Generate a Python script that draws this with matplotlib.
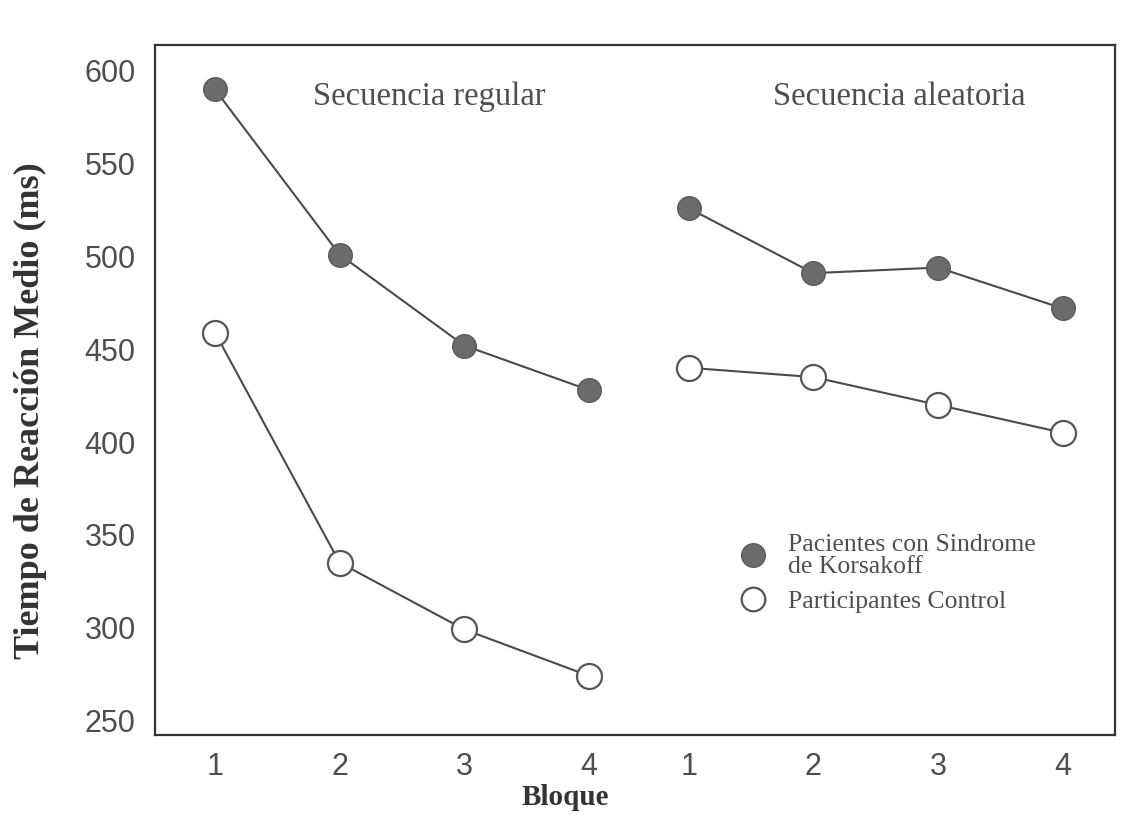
import matplotlib.pyplot as plt
from matplotlib.lines import Line2D

# data
bloques = ['1', '2', '3', '4']
x_regular = [1, 2, 3, 4]
x_aleatoria = [4.8, 5.8, 6.8, 7.8]

korsakoff_regular = [590, 501, 452, 428]
control_regular = [459, 335, 299, 274]
korsakoff_aleatoria = [526, 491, 494, 472]
control_aleatoria = [440, 435, 420, 405]

y_ticks = [250, 300, 350, 400, 450, 500, 550, 600]

line_col = '#4a4a4a'
fill_col = '#6b6b6b'
text_col = '#4e4e4e'
serif = ['Liberation Serif', 'DejaVu Serif']
sans = ['Liberation Sans', 'DejaVu Sans']

fig = plt.figure(figsize=(11.32, 8.16), dpi=100)
ax = fig.add_axes([0.137, 0.099, 0.848, 0.846])

for xs, ys in [(x_regular, korsakoff_regular), (x_aleatoria, korsakoff_aleatoria)]:
    ax.plot(xs, ys, color=line_col, lw=1.5, marker='o', ms=17,
            mfc=fill_col, mec='#5a5a5a', mew=1.0, zorder=3)
for xs, ys in [(x_regular, control_regular), (x_aleatoria, control_aleatoria)]:
    ax.plot(xs, ys, color=line_col, lw=1.5, marker='o', ms=18,
            mfc='white', mec='#555555', mew=1.6, zorder=3)

ax.set_xlim(0.52, 8.22)
ax.set_ylim(242, 614)
ax.set_xticks(x_regular + x_aleatoria)
ax.set_xticklabels(bloques + bloques)
ax.set_yticks(y_ticks)
ax.tick_params(length=0, labelsize=22, colors=text_col)
ax.tick_params(axis='y', pad=14)
ax.tick_params(axis='x', pad=12)
for lab in ax.get_xticklabels() + ax.get_yticklabels():
    lab.set_family(sans)

for s in ax.spines.values():
    s.set_color('#333333')
    s.set_linewidth(1.6)

ax.set_ylabel('Tiempo de Reacción Medio (ms)', family=serif, fontweight='bold',
              fontsize=26, color='#333333')
ax.yaxis.set_label_coords(-0.113, 0.47)
ax.set_xlabel('Bloque', family=serif, fontweight='bold', fontsize=21,
              color='#333333')
ax.xaxis.set_label_coords(0.427, -0.07)

ax.text(2.72, 586, 'Secuencia regular', family=serif, fontsize=23.5,
        color=text_col, ha='center', va='center')
ax.text(6.49, 586, 'Secuencia aleatoria', family=serif, fontsize=23.5,
        color=text_col, ha='center', va='center')

handles = [
    Line2D([], [], ls='none', marker='o', ms=17, mfc=fill_col, mec='#5a5a5a'),
    Line2D([], [], ls='none', marker='o', ms=17, mfc='white', mec='#555555', mew=1.6),
]
labels = ['Pacientes con Sindrome\nde Korsakoff', 'Participantes Control']
leg = ax.legend(handles, labels, loc='upper left', bbox_to_anchor=(0.585, 0.325),
                frameon=False, handlelength=1.0, handletextpad=0.87,
                labelspacing=0.45, prop={'family': serif, 'size': 18.5})
for t in leg.get_texts():
    t.set_color(text_col)
    t.set_linespacing(1.0)

fig.savefig('out.png', dpi=100, facecolor='white')
